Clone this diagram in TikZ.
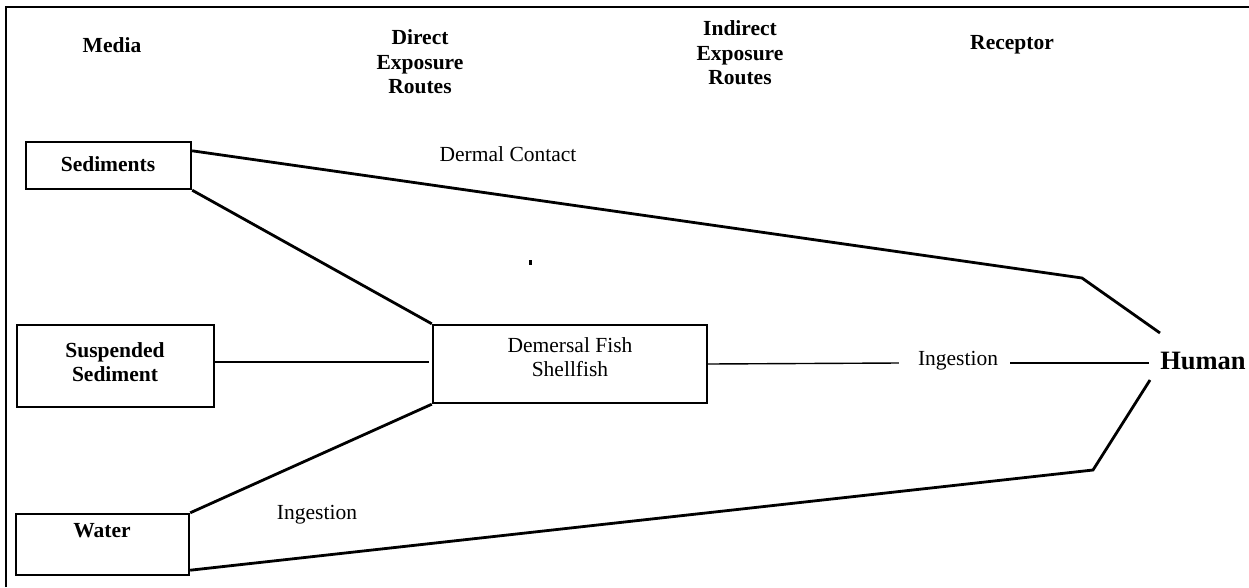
\documentclass[tikz,border=0pt]{standalone}
\usepackage{fontspec}
\setmainfont{Liberation Serif}
\usetikzlibrary{calc}
\begin{document}
\begin{tikzpicture}[x=1pt,y=-1pt,
  txt/.style={inner sep=0pt,align=center,font=\fontsize{21.5}{24.5}\selectfont},
  btxt/.style={txt,font=\fontsize{21.5}{24.5}\selectfont\bfseries},
  box/.style={draw,line width=2.4pt,inner sep=0pt},
  heavy/.style={line width=2.8pt,line join=miter},
  light/.style={line width=1.4pt}]
\useasboundingbox (0,0) rectangle (1249,587);
% outer frame (top and left sides only)
\draw[line width=2.8pt] (6,587) -- (6,7) -- (1249,7);

% column headings
\node[btxt] (hmedia) at (112,45) {Media};
\node[btxt] (hdirect) at (420,62) {Direct\\Exposure\\Routes};
\node[btxt] (hindirect) at (740,53) {Indirect\\Exposure\\Routes};
\node[btxt] (hreceptor) at (1012,45) {Receptor};

% media boxes
\node[box,minimum width=165pt,minimum height=47pt] (sed) at (108.5,165.5) {};
\node[btxt] (sedlbl) at (108,164) {Sediments};
\node[box,minimum width=197pt,minimum height=82pt] (susp) at (115.5,366) {};
\node[btxt] (susplbl) at (115,362) {Suspended\\Sediment};
\node[box,minimum width=173pt,minimum height=61pt] (water) at (102.5,544.5) {};
\node[btxt] (waterlbl) at (102,531) {Water};

% intermediate receptor
\node[box,minimum width=274pt,minimum height=78pt] (fish) at (570,364) {};
\node[txt] (fishlbl) at (570,357) {Demersal Fish\\Shellfish};

% final receptor
\node[inner sep=0pt,font=\fontsize{26.5}{30}\selectfont\bfseries] (human) at (1203,361) {Human};

% route labels
\node[txt] (dermal) at (508,154) {Dermal Contact};
\node[txt] (ingmid) at (958,361) {Ingestion};
\node[txt] (inglow) at (317,515) {Ingestion};

% bend points of the direct routes
\coordinate (k1) at (1082,278);
\coordinate (h1) at (1160,333);
\coordinate (k2) at (1093,470);
\coordinate (h2) at (1150,380);

% direct exposure routes
\draw[heavy] ($(sed.north east)+(0,10)$) -- (k1) -- (h1);
\draw[heavy] ($(water.south east)+(0,-6)$) -- (k2) -- (h2);

% media to fish / shellfish
\draw[heavy] (sed.south east) -- (fish.north west);
\draw[light] ($(susp.east)+(0,-4)$) -- ($(fish.west)+(-3,-2)$);
\draw[heavy] (water.north east) -- (fish.south west);

% indirect ingestion route
\draw[light] (fish.east) -- ($(ingmid.west)+(-19,2)$);
\draw[light] ($(ingmid.east)+(12,2)$) -- ($(human.west)+(-11,2)$);

% small mark in the drawing area
\fill (529,260) rectangle (532,265);
\end{tikzpicture}
\end{document}
